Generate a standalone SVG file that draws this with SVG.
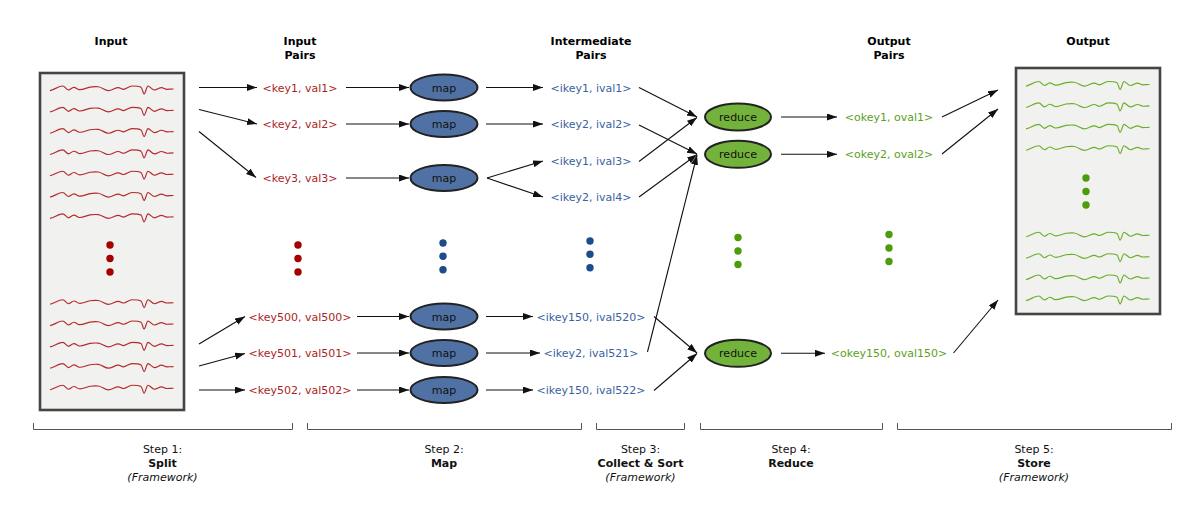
<svg xmlns="http://www.w3.org/2000/svg" xmlns:xlink="http://www.w3.org/1999/xlink" width="1200" height="520" viewBox="0 0 1200 520">
<style>
text{font-family:"DejaVu Sans","Liberation Sans",sans-serif;font-size:11px;text-anchor:middle}
.title{font-weight:bold}
.red{fill:#aa1f1f}
.blue{fill:#3a62a0}
.green{fill:#5ba11b}
.lbl{fill:#111}
.box{fill:#f1f1ef;stroke:#444;stroke-width:2.6}
.map{fill:#4f71a4;stroke:#222;stroke-width:2}
.reduce{fill:#74b33b;stroke:#222;stroke-width:2}
.wr{fill:none;stroke:#b52a2a;stroke-width:1.15}
.wg{fill:none;stroke:#6aae2a;stroke-width:1.15}
.edge{fill:none;stroke:#111;stroke-width:1.1}
.br{fill:none;stroke:#555;stroke-width:1}
.dr{fill:#a50000}
.db{fill:#1d4c8a}
.dg{fill:#4c9c0c}
.b{font-weight:bold}
.i{font-style:italic}
</style>
<defs>
<marker id="arr" markerUnits="userSpaceOnUse" markerWidth="11" markerHeight="8" refX="10" refY="3.5" orient="auto">
<path d="M0,0 L10,3.5 L0,7 z" fill="#111"/>
</marker>
<path id="wave" d="M0,2.3 C4,1.5 9,-2.3 12.7,-2.3 C15,-2.3 16.5,1.7 18.5,1.7 C20.5,1.7 21.5,-1 24,-1 C26,-1 27,1 29,1.3 C33,1.8 36,-0.5 40,-1.2 C44,-1.8 46,-1.7 48.3,-1.5 C52,-1 55,2.3 58.3,2.3 C62,2.3 65,-0.7 68.3,-0.7 C70.5,-0.7 71.5,1 73.5,1 C76,1 79,-2.3 82,-2.3 C86,-2.3 89,-2.3 91,-1 C92.5,0 93,5.7 94,5.7 C95.5,5.7 96.5,-2.3 98,-2.3 C100,-2.3 102,1.7 104.5,1.7 C107,1.7 109,-0.7 111.5,-0.7 C113.5,-0.7 115,1 117,1 C119,1 121,0.7 123.5,0.7"/>
</defs>

<g id="titles">
<text class="title" x="111" y="45">Input</text>
<text class="title" x="300" y="45">Input</text>
<text class="title" x="300" y="59">Pairs</text>
<text class="title" x="591" y="45">Intermediate</text>
<text class="title" x="591" y="59">Pairs</text>
<text class="title" x="889" y="45">Output</text>
<text class="title" x="889" y="59">Pairs</text>
<text class="title" x="1088" y="45">Output</text>
</g>

<g id="input">
<rect class="box" x="40" y="73" width="144" height="337"/>
<g class="wr">
<use xlink:href="#wave" x="50" y="88.3"/>
<use xlink:href="#wave" x="50" y="109.6"/>
<use xlink:href="#wave" x="50" y="130.9"/>
<use xlink:href="#wave" x="50" y="152.2"/>
<use xlink:href="#wave" x="50" y="173.5"/>
<use xlink:href="#wave" x="50" y="194.8"/>
<use xlink:href="#wave" x="50" y="216.1"/>
<use xlink:href="#wave" x="50" y="302"/>
<use xlink:href="#wave" x="50" y="323.3"/>
<use xlink:href="#wave" x="50" y="344.6"/>
<use xlink:href="#wave" x="50" y="365.9"/>
<use xlink:href="#wave" x="50" y="387.5"/>
</g>
<circle class="dr" cx="110" cy="245" r="3.7"/>
<circle class="dr" cx="110" cy="258.5" r="3.7"/>
<circle class="dr" cx="110" cy="272" r="3.7"/>
</g>

<g id="output">
<rect class="box" x="1016" y="68" width="144" height="246"/>
<g class="wg">
<use xlink:href="#wave" x="1026" y="83.8"/>
<use xlink:href="#wave" x="1026" y="105.2"/>
<use xlink:href="#wave" x="1026" y="126.6"/>
<use xlink:href="#wave" x="1026" y="148"/>
<use xlink:href="#wave" x="1026" y="234.5"/>
<use xlink:href="#wave" x="1026" y="256"/>
<use xlink:href="#wave" x="1026" y="277.3"/>
<use xlink:href="#wave" x="1026" y="298.3"/>
</g>
<circle class="dg" cx="1086" cy="178" r="3.7"/>
<circle class="dg" cx="1086" cy="191.5" r="3.7"/>
<circle class="dg" cx="1086" cy="205" r="3.7"/>
</g>

<g id="input-pairs">
<text class="red" x="300" y="91.5">&lt;key1, val1&gt;</text>
<text class="red" x="300" y="128">&lt;key2, val2&gt;</text>
<text class="red" x="300" y="182">&lt;key3, val3&gt;</text>
<text class="red" x="300" y="320.5">&lt;key500, val500&gt;</text>
<text class="red" x="300" y="357">&lt;key501, val501&gt;</text>
<text class="red" x="300" y="394">&lt;key502, val502&gt;</text>
<circle class="dr" cx="298" cy="245" r="3.7"/>
<circle class="dr" cx="298" cy="258.5" r="3.7"/>
<circle class="dr" cx="298" cy="272" r="3.7"/>
</g>

<g id="map1"><ellipse class="map" cx="444" cy="87.5" rx="33.5" ry="13"/><text class="lbl" x="444" y="91.5">map</text></g>
<g id="map2"><ellipse class="map" cx="444" cy="124" rx="33.5" ry="13"/><text class="lbl" x="444" y="128">map</text></g>
<g id="map3"><ellipse class="map" cx="444" cy="178" rx="33.5" ry="13"/><text class="lbl" x="444" y="182">map</text></g>
<g id="map4"><ellipse class="map" cx="444" cy="316.5" rx="33.5" ry="13"/><text class="lbl" x="444" y="320.5">map</text></g>
<g id="map5"><ellipse class="map" cx="444" cy="353" rx="33.5" ry="13"/><text class="lbl" x="444" y="357">map</text></g>
<g id="map6"><ellipse class="map" cx="444" cy="390" rx="33.5" ry="13"/><text class="lbl" x="444" y="394">map</text></g>
<g id="map-dots">
<circle class="db" cx="443" cy="243" r="3.7"/>
<circle class="db" cx="443" cy="256.3" r="3.7"/>
<circle class="db" cx="443" cy="269.7" r="3.7"/>
</g>

<g id="intermediate-pairs">
<text class="blue" x="591" y="91.5">&lt;ikey1, ival1&gt;</text>
<text class="blue" x="591" y="128">&lt;ikey2, ival2&gt;</text>
<text class="blue" x="591" y="165">&lt;ikey1, ival3&gt;</text>
<text class="blue" x="591" y="201">&lt;ikey2, ival4&gt;</text>
<text class="blue" x="591" y="320.5">&lt;ikey150, ival520&gt;</text>
<text class="blue" x="591" y="357">&lt;ikey2, ival521&gt;</text>
<text class="blue" x="591" y="394">&lt;ikey150, ival522&gt;</text>
<circle class="db" cx="590" cy="241" r="3.7"/>
<circle class="db" cx="590" cy="254.3" r="3.7"/>
<circle class="db" cx="590" cy="267.7" r="3.7"/>
</g>

<g id="reduce1"><ellipse class="reduce" cx="738" cy="117" rx="33" ry="13.5"/><text class="lbl" x="738" y="121">reduce</text></g>
<g id="reduce2"><ellipse class="reduce" cx="738" cy="154.3" rx="33" ry="13.5"/><text class="lbl" x="738" y="158.3">reduce</text></g>
<g id="reduce3"><ellipse class="reduce" cx="738" cy="353.3" rx="33" ry="13.5"/><text class="lbl" x="738" y="357.3">reduce</text></g>
<g id="reduce-dots">
<circle class="dg" cx="738" cy="237.5" r="3.7"/>
<circle class="dg" cx="738" cy="251" r="3.7"/>
<circle class="dg" cx="738" cy="264.5" r="3.7"/>
</g>

<g id="output-pairs">
<text class="green" x="889" y="121">&lt;okey1, oval1&gt;</text>
<text class="green" x="889" y="158.3">&lt;okey2, oval2&gt;</text>
<text class="green" x="889" y="357.3">&lt;okey150, oval150&gt;</text>
<circle class="dg" cx="889" cy="234.5" r="3.7"/>
<circle class="dg" cx="889" cy="248" r="3.7"/>
<circle class="dg" cx="889" cy="261.5" r="3.7"/>
</g>

<g id="connectors" class="edge" marker-end="url(#arr)">
<line x1="199" y1="87.5" x2="257" y2="87.5"/>
<line x1="199" y1="109.5" x2="257" y2="124"/>
<line x1="199" y1="131.5" x2="256" y2="177.5"/>
<line x1="199" y1="344" x2="245" y2="316.5"/>
<line x1="199" y1="366" x2="245" y2="353.5"/>
<line x1="199" y1="390" x2="245" y2="390"/>

<line x1="346" y1="87.5" x2="409" y2="87.5"/>
<line x1="346" y1="124" x2="409" y2="124"/>
<line x1="346" y1="178" x2="409" y2="178"/>
<line x1="357" y1="316.5" x2="409" y2="316.5"/>
<line x1="357" y1="353" x2="409" y2="353"/>
<line x1="357" y1="390" x2="409" y2="390"/>

<line x1="486" y1="87.5" x2="543" y2="87.5"/>
<line x1="486" y1="124" x2="543" y2="124"/>
<line x1="487" y1="178" x2="543" y2="161"/>
<line x1="487" y1="178" x2="543" y2="197"/>
<line x1="486" y1="316.5" x2="533" y2="316.5"/>
<line x1="486" y1="353" x2="540" y2="353"/>
<line x1="486" y1="390" x2="533" y2="390"/>

<line x1="639" y1="87.5" x2="697" y2="117"/>
<line x1="639" y1="125" x2="697" y2="154"/>
<line x1="639" y1="161.5" x2="697" y2="117.5"/>
<line x1="639" y1="197" x2="697" y2="154.5"/>
<line x1="647.5" y1="352" x2="697" y2="155"/>
<line x1="654" y1="316.5" x2="697" y2="353"/>
<line x1="654" y1="390.5" x2="697" y2="353.5"/>

<line x1="781" y1="117" x2="837" y2="117"/>
<line x1="781" y1="154.3" x2="837" y2="154.3"/>
<line x1="781" y1="353.3" x2="825" y2="353.3"/>

<line x1="942" y1="117" x2="998" y2="90"/>
<line x1="942" y1="154" x2="998" y2="109"/>
<line x1="953.5" y1="353" x2="998" y2="300"/>
</g>

<g id="steps">
<path class="br" d="M33.5,423 V429.5 H292.5 V423"/>
<path class="br" d="M307.5,423 V429.5 H581.5 V423"/>
<path class="br" d="M596.5,423 V429.5 H684.5 V423"/>
<path class="br" d="M700.5,423 V429.5 H882.5 V423"/>
<path class="br" d="M897.5,423 V429.5 H1171.5 V423"/>
<text class="lbl" x="162.5" y="453">Step 1:</text>
<text class="lbl b" x="162.5" y="467">Split</text>
<text class="lbl i" x="162.5" y="481">(Framework)</text>
<text class="lbl" x="444" y="453">Step 2:</text>
<text class="lbl b" x="444" y="467">Map</text>
<text class="lbl" x="640.5" y="453">Step 3:</text>
<text class="lbl b" x="640.5" y="467">Collect &amp; Sort</text>
<text class="lbl i" x="640.5" y="481">(Framework)</text>
<text class="lbl" x="791" y="453">Step 4:</text>
<text class="lbl b" x="791" y="467">Reduce</text>
<text class="lbl" x="1034" y="453">Step 5:</text>
<text class="lbl b" x="1034" y="467">Store</text>
<text class="lbl i" x="1034" y="481">(Framework)</text>
</g>
</svg>
